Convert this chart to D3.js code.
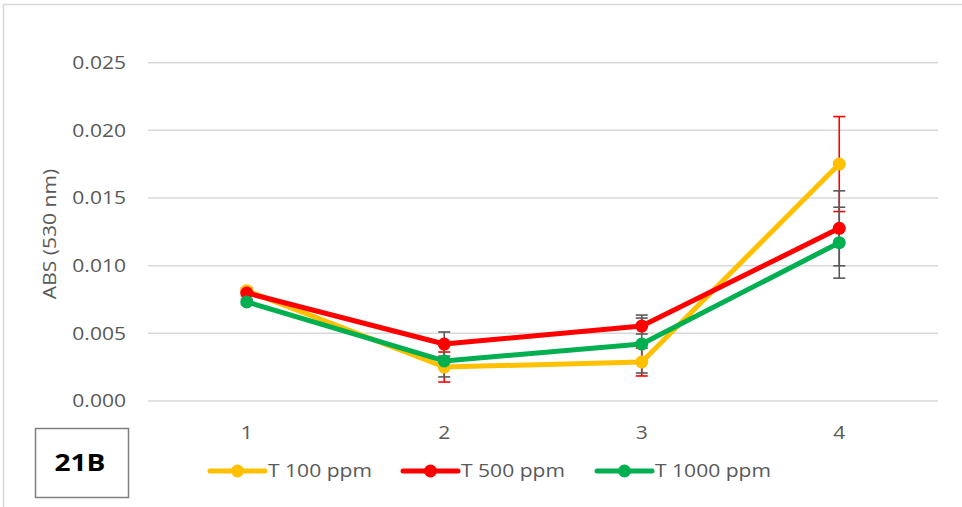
<!DOCTYPE html>
<html>
<head>
<meta charset="utf-8">
<script src="https://cdn.jsdelivr.net/npm/d3@7/dist/d3.min.js"></script>
<style>
  html, body { margin: 0; padding: 0; background: #fff; }
  svg { display: block; }
  text { font-family: "Open Sans", "Liberation Sans", sans-serif; }
</style>
</head>
<body>
<svg id="chart" width="962" height="507"></svg>
<script>
// Sampling points on the x axis
const categories = ["1", "2", "3", "4"];

// Absorbance at 530 nm for each treatment
const t100 = [0.00815, 0.00251, 0.00288, 0.01751];
const t500 = [0.00798, 0.00421, 0.00554, 0.01276];
const t1000 = [0.00732, 0.00296, 0.00421, 0.01170];

// Standard deviations (error bars)
const t100Err = [0.0002, 0.00111, 0.00103, 0.00351];
const t500Err = [0.0002, 0.00089, 0.00059, 0.00277];
const t1000Err = [0.0002, 0.00118, 0.00214, 0.00262];

const yTicks = [0, 0.005, 0.010, 0.015, 0.020, 0.025];
const seriesNames = ["T 100 ppm", "T 500 ppm", "T 1000 ppm"];

const series = [
  { name: seriesNames[0], values: t100, err: t100Err, color: "#FFC000", errColor: "#FF0000" },
  { name: seriesNames[1], values: t500, err: t500Err, color: "#FF0000", errColor: "#595959" },
  { name: seriesNames[2], values: t1000, err: t1000Err, color: "#00B050", errColor: "#595959" }
];

// Text is drawn slightly widened to get the broad label look
const STRETCH = 1.17;

const svg = d3.select("#chart");

// Outer chart frame
svg.append("rect")
  .attr("x", 3.5).attr("y", 4.5)
  .attr("width", 980).attr("height", 520)
  .attr("fill", "none").attr("stroke", "#d9d9d9").attr("stroke-width", 1.5);

const plot = { left: 148, right: 938, top: 62.7, bottom: 401 };

const x = d3.scaleBand().domain(categories).range([plot.left, plot.right]);
const cx = c => x(c) + x.bandwidth() / 2;
const y = d3.scaleLinear().domain([0, 0.025]).range([plot.bottom, plot.top]);

// Horizontal gridlines
svg.append("g")
  .selectAll("line")
  .data(yTicks)
  .join("line")
  .attr("x1", plot.left).attr("x2", plot.right)
  .attr("y1", d => y(d)).attr("y2", d => y(d))
  .attr("stroke", "#d9d9d9").attr("stroke-width", 1.5);

// Y axis tick labels
const yAxis = d3.axisLeft(y).tickValues(yTicks).tickFormat(d3.format(".3f")).tickSize(0).tickPadding(0);
svg.append("g")
  .attr("transform", `translate(${plot.left - 22},0)`)
  .call(yAxis)
  .call(g => g.select(".domain").remove())
  .selectAll("text")
  .attr("x", 0)
  .attr("transform", `scale(${STRETCH},1)`)
  .attr("fill", "#595959")
  .attr("font-size", 18)
  .attr("font-family", "'Open Sans', sans-serif");

// X axis tick labels
const xAxis = d3.axisBottom(x).tickSize(0).tickPadding(0);
svg.append("g")
  .attr("transform", `translate(0,${plot.bottom + 25})`)
  .call(xAxis)
  .call(g => g.select(".domain").remove())
  .selectAll("text")
  .attr("transform", `scale(${STRETCH},1)`)
  .attr("fill", "#595959")
  .attr("font-size", 18)
  .attr("font-family", "'Open Sans', sans-serif");

// Y axis title
svg.append("text")
  .attr("transform", `translate(56,234) rotate(-90) scale(${STRETCH},1)`)
  .attr("text-anchor", "middle")
  .attr("fill", "#595959")
  .attr("font-size", 18)
  .text("ABS (530 nm)");

const line = d3.line()
  .x((d, i) => cx(categories[i]))
  .y(d => y(d));

// Series lines
series.forEach(s => {
  svg.append("path")
    .datum(s.values)
    .attr("d", line)
    .attr("fill", "none")
    .attr("stroke", s.color)
    .attr("stroke-width", 5)
    .attr("stroke-linejoin", "round");
});

// Error bars
series.forEach(s => {
  const g = svg.append("g").attr("stroke", s.errColor).attr("stroke-width", 1.6);
  s.values.forEach((v, i) => {
    const px = cx(categories[i]);
    const lo = y(v - s.err[i]), hi = y(v + s.err[i]);
    g.append("line").attr("x1", px).attr("x2", px).attr("y1", lo).attr("y2", hi);
    g.append("line").attr("x1", px - 6).attr("x2", px + 6).attr("y1", lo).attr("y2", lo);
    g.append("line").attr("x1", px - 6).attr("x2", px + 6).attr("y1", hi).attr("y2", hi);
  });
});

// Markers
series.forEach(s => {
  svg.append("g")
    .selectAll("circle")
    .data(s.values)
    .join("circle")
    .attr("cx", (d, i) => cx(categories[i]))
    .attr("cy", d => y(d))
    .attr("r", 6.5)
    .attr("fill", s.color);
});

// Legend
const legendX = [210, 403, 597];
const legendY = 471;
series.forEach((s, i) => {
  const g = svg.append("g").attr("transform", `translate(${legendX[i]},${legendY})`);
  g.append("line").attr("x1", 0).attr("x2", 55).attr("y1", 0).attr("y2", 0)
    .attr("stroke", s.color).attr("stroke-width", 5).attr("stroke-linecap", "round");
  g.append("circle").attr("cx", 27.5).attr("cy", 0).attr("r", 6.5).attr("fill", s.color);
  g.append("text").attr("transform", `translate(58,0) scale(${STRETCH},1)`).attr("dy", "0.35em")
    .attr("fill", "#595959").attr("font-size", 18).text(s.name);
});

// Panel label box
svg.append("rect")
  .attr("x", 35.5).attr("y", 428.5).attr("width", 93).attr("height", 69)
  .attr("fill", "#fff").attr("stroke", "#7f7f7f").attr("stroke-width", 1.5);
svg.append("text")
  .attr("transform", `translate(80,463) scale(${STRETCH},1)`)
  .attr("dy", "0.35em")
  .attr("text-anchor", "middle")
  .attr("font-weight", "bold").attr("font-size", 24)
  .attr("fill", "#000")
  .text("21B");
</script>
</body>
</html>
